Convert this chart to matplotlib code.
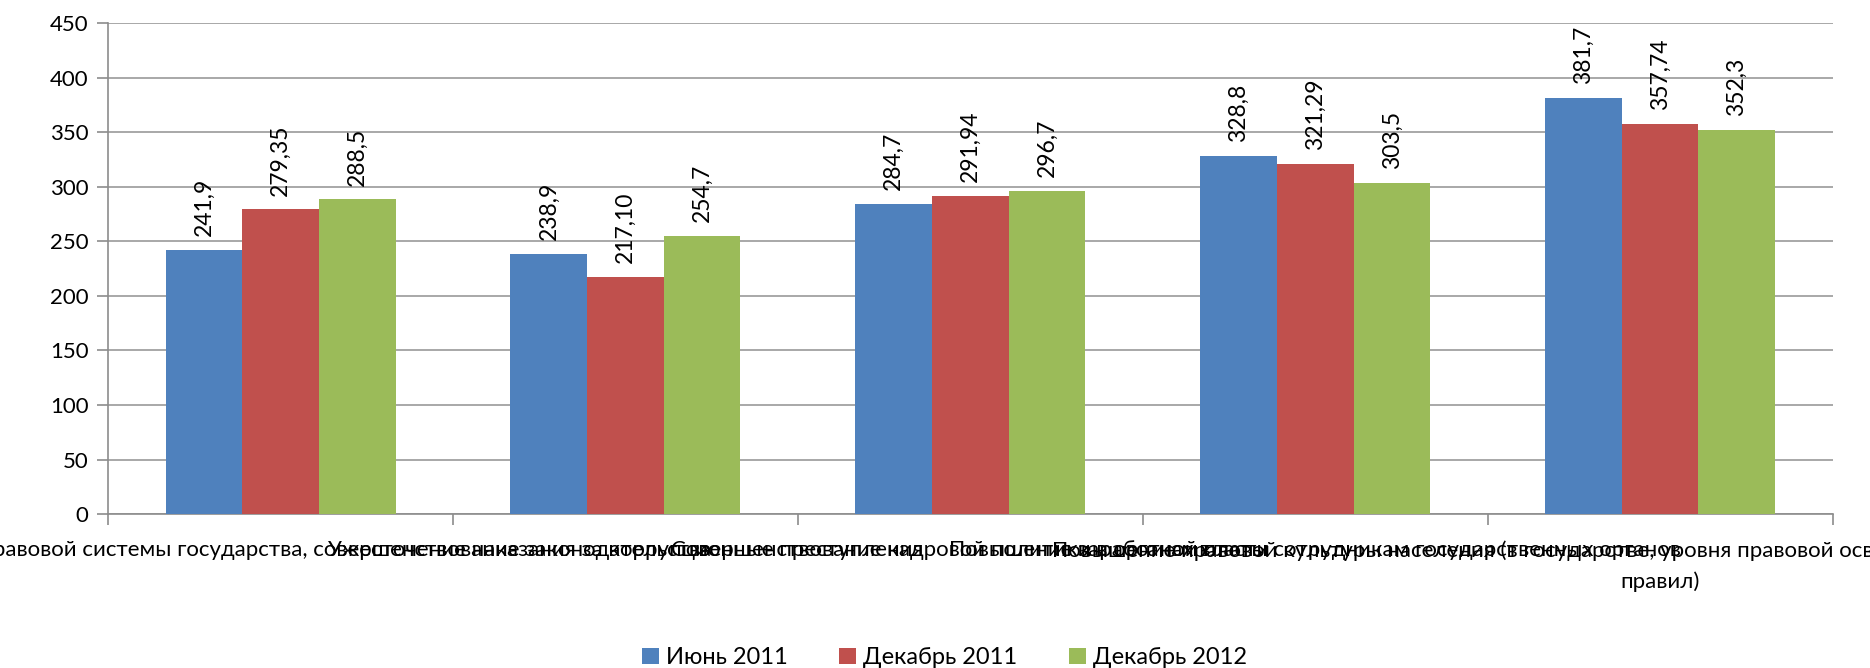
import numpy as np
import matplotlib.pyplot as plt
from matplotlib.ticker import FixedLocator

plt.rcParams['font.family'] = ['Lato', 'DejaVu Sans']

# categories (long labels overlap in the original chart)
categories = [
    "Укрепление правовой системы государства, совершенствование законодательства",
    "Ужесточение наказания за коррупционные преступления",
    "Совершенствование кадровой политики в органах власти",
    "Повышение заработной платы сотрудникам государственных органов",
    "Повышение правовой культуры населения (в государстве, уровня правовой осведомлённости, культуры соблюдения\nправил)",
]
series_names = ["Июнь 2011", "Декабрь 2011", "Декабрь 2012"]
june_2011 = [241.9, 238.9, 284.7, 328.8, 381.7]
dec_2011 = [279.35, 217.10, 291.94, 321.29, 357.74]
dec_2012 = [288.5, 254.7, 296.7, 303.5, 352.3]
value_labels = [
    ["241,9", "238,9", "284,7", "328,8", "381,7"],
    ["279,35", "217,10", "291,94", "321,29", "357,74"],
    ["288,5", "254,7", "296,7", "303,5", "352,3"],
]
colors = ["#4F81BD", "#C0504D", "#9BBB59"]

fig = plt.figure(figsize=(18.7, 6.68), dpi=100)
ax = fig.add_axes([0.0578, 0.2305, 0.9222, 0.7345])

x = np.arange(len(categories))
w = 0.667 / 3
for i, (vals, name, col) in enumerate(zip([june_2011, dec_2011, dec_2012], series_names, colors)):
    bars = ax.bar(x + (i - 1) * w, vals, width=w, color=col, label=name, zorder=3)
    for b, lab in zip(bars, value_labels[i]):
        ax.annotate(lab, (b.get_x() + b.get_width() / 2, b.get_height()),
                    xytext=(0, 10), textcoords='offset points',
                    rotation=90, ha='center', va='bottom', fontsize=16.5, color='black')

ax.set_xlim(-0.5, len(categories) - 0.5)
ax.set_ylim(0, 450)
ax.set_yticks(np.arange(0, 451, 50))
ax.yaxis.grid(True, color='#9a9a9a', linewidth=1.2, zorder=0)
ax.set_axisbelow(True)

ax.set_xticks(x)
ax.set_xticklabels(categories, fontsize=16, ha='center', linespacing=1.6)
ax.xaxis.set_minor_locator(FixedLocator(np.arange(-0.5, len(categories), 1.0)))
ax.tick_params(axis='x', which='major', length=0, pad=19)
ax.tick_params(axis='x', which='minor', length=8, color='#8c8c8c', width=1.2)
ax.tick_params(axis='y', length=8, color='#8c8c8c', width=1.2, labelsize=16, pad=6)

for s in ['top', 'right']:
    ax.spines[s].set_visible(False)
for s in ['left', 'bottom']:
    ax.spines[s].set_color('#8c8c8c')
    ax.spines[s].set_linewidth(1.2)

fig.legend(loc='lower center', bbox_to_anchor=(0.505, -0.032), ncol=3, frameon=False,
           fontsize=17, handlelength=0.7, handleheight=0.7, handletextpad=0.3,
           columnspacing=2.2)

fig.savefig('out.png', dpi=100)
